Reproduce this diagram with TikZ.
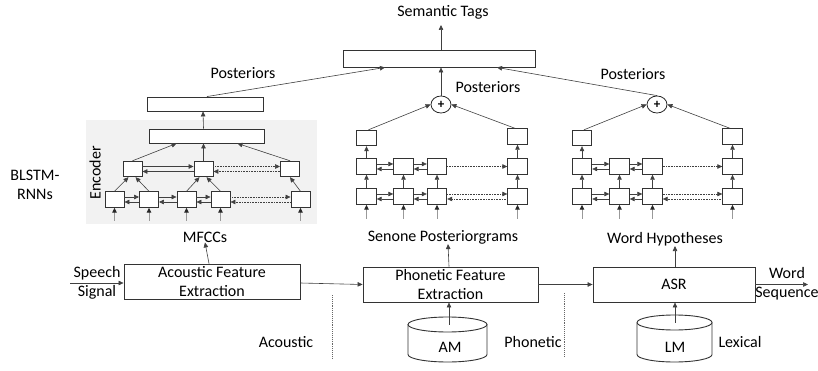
\documentclass[tikz,border=0pt]{standalone}
\usepackage{fontspec}
\setmainfont{Carlito}
\usetikzlibrary{arrows.meta,shapes.geometric}
\newcommand\bilink[3]{%
  \draw[#3] ([yshift=2.5pt]#1.east) -- ([yshift=2.5pt]#2.west);
  \draw[#3] ([yshift=-2.5pt]#2.west) -- ([yshift=-2.5pt]#1.east);}
\begin{document}
\begin{tikzpicture}[x=1pt,y=-1pt,
  every node/.style={font=\fontsize{16}{19}\selectfont},
  box/.style={draw=black!80, line width=0.9pt, fill=white, inner sep=0pt},
  cell/.style={box, minimum width=19.5pt, minimum height=15.5pt},
  conn/.style={draw=black!75, line width=0.6pt, -{Triangle[length=5pt,width=4.5pt]}},
  feed/.style={draw=black!40, line width=0.9pt, -{Triangle[length=5pt,width=4.5pt,color=black!85]}},
  dots/.style={conn, densely dotted},
  plus/.style={ellipse, draw=black!85, line width=0.8pt, minimum width=20pt, minimum height=17pt, inner sep=0pt, font=\fontsize{13}{13}\selectfont\bfseries},
  dbline/.style={draw=black!80, line width=0.9pt, fill=white},
  sep/.style={draw=black!60, line width=0.9pt, densely dotted},
  lbl/.style={align=center, inner sep=0pt},
]
\useasboundingbox (0,0) rectangle (818,371);

% ---------- top ----------
\node[box, minimum width=192pt, minimum height=17pt] (sem) at (439,58.5) {};
\node[lbl] (semtags) at (443,12) {Semantic Tags};
\coordinate (semout) at (441,25);
\draw[conn] ([xshift=2pt]sem.north) -- (semout);

% ---------- encoder ----------
\fill[black!5] (86,120) rectangle (317,224);
\node[lbl, rotate=90] (enc) at (95,173) {Encoder};
\node[box, minimum width=116pt, minimum height=14pt] (epost) at (205.5,104) {};
\node[box, minimum width=115pt, minimum height=14pt] (etop) at (206.5,136) {};
\node[cell, minimum width=19pt] (u1) at (132.5,169) {};
\node[cell, minimum width=19pt] (u2) at (203.5,169) {};
\node[cell, minimum width=19pt] (u3) at (290,169) {};
\node[cell, minimum width=19pt] (l1) at (114.5,199.5) {};
\node[cell, minimum width=19pt] (l2) at (149,199.5) {};
\node[cell, minimum width=19pt] (l3) at (186.5,199.5) {};
\node[cell, minimum width=19pt] (l4) at (220.5,199.5) {};
\node[cell, minimum width=19pt] (l5) at (300.5,199.5) {};
\foreach \k in {1,...,5} {\draw[feed] ([yshift=-13pt]l\k.south) -- (l\k.south);}
\bilink{l1}{l2}{conn}
\bilink{l2}{l3}{conn}
\bilink{l3}{l4}{conn}
\bilink{l4}{l5}{dots}
\bilink{u1}{u2}{conn}
\bilink{u2}{u3}{dots}
\draw[conn] (l1.north) -- ([xshift=-4pt]u1.south);
\draw[conn] (l2.north) -- ([xshift=3pt]u1.south);
\draw[conn] (l3.north) -- ([xshift=-4pt]u2.south);
\draw[conn] (l4.north) -- ([xshift=3pt]u2.south);
\draw[conn] (l5.north) -- (u3.south);
\draw[conn] (u1.north) -- ([xshift=-30pt]etop.south);
\draw[conn] (u2.north) -- ([xshift=-3pt]etop.south);
\draw[conn] (u3.north) -- ([xshift=31pt]etop.south);
\draw[conn] ([xshift=-3pt]etop.north) -- ([xshift=-2.5pt]epost.south);
\draw[conn] ([xshift=1.5pt]epost.north) -- ([xshift=-54pt]sem.south);
\node[lbl] (post1) at (243,73) {Posteriors};
\node[lbl] (mfcc) at (205,237) {MFCCs};

% ---------- BLSTM stacks ----------
\foreach \p/\a/\b/\c/\d/\pl in {m/366.5/403.5/437/517.5/441, r/582/619.5/652.5/732.5/657} {
  \node[cell] (\p t1) at (\a,138) {};
  \node[cell] (\p t4) at (\d,136.5) {};
  \node[cell] (\p b1) at (\a,166.5) {};
  \node[cell] (\p b2) at (\b,166.5) {};
  \node[cell] (\p b3) at (\c,166.5) {};
  \node[cell] (\p b4) at (\d,166.5) {};
  \node[cell] (\p a1) at (\a,196.5) {};
  \node[cell] (\p a2) at (\b,196.5) {};
  \node[cell] (\p a3) at (\c,196.5) {};
  \node[cell] (\p a4) at (\d,196.5) {};
  \node[plus] (\p plus) at (\pl,104.5) {+};
  \foreach \k in {1,...,4} {
    \draw[feed] ([yshift=-14pt]\p a\k.south) -- (\p a\k.south);
    \draw[conn] (\p a\k) -- (\p b\k);
  }
  \draw[conn] (\p b1) -- (\p t1);
  \draw[conn] (\p b4) -- (\p t4);
  \bilink{\p a1}{\p a2}{conn}
  \bilink{\p a2}{\p a3}{conn}
  \bilink{\p a3}{\p a4}{dots}
  \bilink{\p b1}{\p b2}{conn}
  \bilink{\p b2}{\p b3}{conn}
  \draw[dots] (\p b3) -- (\p b4);
  \draw[conn] ([xshift=2pt]\p t1.north) -- (\p plus.west);
  \draw[conn] ([xshift=-2.5pt]\p t4.north) -- (\p plus.east);
}
\draw[conn] (mplus) -- ([xshift=2pt]sem.south);
\draw[conn] (rplus.north) -- ([xshift=58pt]sem.south);
\node[lbl] (post2) at (488,87) {Posteriors};
\node[lbl] (post3) at (633,74) {Posteriors};
\node[lbl] (senone) at (443,237) {Senone Posteriorgrams};
\node[lbl] (wordhyp) at (665,239) {Word Hypotheses};

\node[lbl] (blstm) at (35,185) {BLSTM-\\RNNs};

% ---------- bottom pipeline ----------
\node[box, minimum width=176pt, minimum height=35pt, align=center] (afe) at (212,281.5) {Acoustic Feature\\Extraction};
\node[box, minimum width=175pt, minimum height=35pt, align=center] (pfe) at (450.5,284.5) {Phonetic Feature\\Extraction};
\node[box, minimum width=162pt, minimum height=35pt] (asr) at (674,284.5) {ASR};
\node[lbl] (speech) at (97,282.5) {Speech\\Signal};
\coordinate (sin) at (70,283);
\draw[conn] (sin) -- (sin -| afe.west);
\draw[conn] ([yshift=-1.5pt]afe.east) -- (pfe.west);
\draw[conn] (pfe.east) -- (asr.west);
\coordinate (sout) at (808,284.5);
\draw[conn] (asr.east) -- (sout);
\node[lbl] (wordseq) at (787,284) {Word\\Sequence};
\draw[conn] ([xshift=-3pt]afe.north) -- (mfcc.south);
\draw[conn] ([xshift=-1.5pt]pfe.north) -- ([xshift=5pt]senone.south);
\draw[conn] ([xshift=1pt]asr.north) -- ([xshift=10pt]wordhyp.south);

% databases (cylinders)
\draw[dbline] (408,324.5) -- (408,354.5) arc[start angle=180, end angle=0, x radius=39.5, y radius=7.5] -- (487,324.5);
\draw[dbline] (447.5,324.5) ellipse [x radius=39.5, y radius=7.5];
\coordinate (amtop) at (449,324.5);
\node[lbl] (amt) at (450,347) {AM};
\draw[dbline] (637,322.5) -- (637,354.5) arc[start angle=180, end angle=0, x radius=37.5, y radius=7.5] -- (712,322.5);
\draw[dbline] (674.5,322.5) ellipse [x radius=37.5, y radius=7.5];
\coordinate (lmtop) at (675,322.5);
\node[lbl] (lmt) at (675,347) {LM};
\draw[conn] (amtop) -- (amtop |- pfe.south);
\draw[conn] (lmtop) -- (lmtop |- asr.south);

\coordinate (s1a) at (332,295);
\coordinate (s1b) at (332,358);
\draw[sep] (s1a) -- (s1b);
\coordinate (s2a) at (564,293);
\coordinate (s2b) at (564,357);
\draw[sep] (s2a) -- (s2b);
\node[lbl] (acou) at (286,342) {Acoustic};
\node[lbl] (phon) at (533,342) {Phonetic};
\node[lbl] (lexi) at (740,342) {Lexical};
\end{tikzpicture}
\end{document}
